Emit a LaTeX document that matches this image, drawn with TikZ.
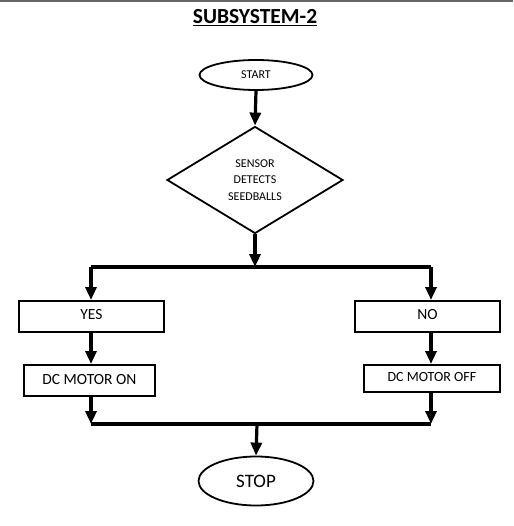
\documentclass[tikz,border=0pt]{standalone}
\usepackage{fontspec}
\setmainfont{Carlito}
\usetikzlibrary{arrows.meta,shapes.geometric}
\begin{document}
\begin{tikzpicture}[x=1pt,y=-1pt,
  box/.style={draw,line width=1.8pt,rectangle,inner sep=0pt,anchor=north west},
  oval/.style={draw,line width=1.8pt,ellipse,inner sep=0pt},
  flow/.style={line width=3.2pt,-{Triangle[length=13pt,width=11pt]}},
  bar/.style={line width=3.2pt}]
\useasboundingbox (0,0) rectangle (513,526);
\fill[gray!80!black] (0,0) rectangle (513,1.6);
\node[font=\fontsize{21.5}{24}\selectfont\bfseries] (title) at (255,18) {\underline{SUBSYSTEM-2}};
\node[oval,minimum width=113pt,minimum height=30pt,font=\fontsize{12}{14}\selectfont] (start) at (256,75) {START};
\node[draw,line width=1.8pt,diamond,inner sep=0pt,minimum width=176pt,minimum height=107pt,align=center,font=\fontsize{12}{16.5}\selectfont] (dec) at (255,180)
  {SENSOR\\DETECTS\\SEEDBALLS};
\node[box,minimum width=145pt,minimum height=31pt] (yes) at (18,300) {};
\node[font=\fontsize{15.5}{17}\selectfont] at ([yshift=1.5pt]yes.center) {YES};
\node[box,minimum width=145pt,minimum height=31pt] (no) at (354,300) {};
\node[font=\fontsize{15.5}{17}\selectfont] at ([yshift=1.5pt]no.center) {NO};
\node[box,minimum width=131pt,minimum height=31pt] (on) at (23,364) {};
\node[font=\fontsize{15.5}{17}\selectfont] at ([yshift=1pt]on.center) {DC MOTOR ON};
\node[box,minimum width=136pt,minimum height=27pt] (off) at (363,364) {};
\node[font=\fontsize{14}{16}\selectfont] at ([yshift=1pt]off.center) {DC MOTOR OFF};
\node[oval,minimum width=115pt,minimum height=49pt,font=\fontsize{19}{21}\selectfont] (stop) at (256,481) {STOP};
\coordinate (sj) at (255,267);
\coordinate (sl) at (91,267);
\coordinate (sr) at (431,267);
\coordinate (ml) at (91,424);
\coordinate (mr) at (431,424);
\coordinate (mc) at (257,424);
\draw[flow] (start.south) -- (dec.north);
\draw[flow] (dec.south) -- (sj);
\draw[bar] (sl) -- (sr);
\draw[flow] (sl) -- (sl |- yes.north);
\draw[flow] (sr) -- (sr |- no.north);
\draw[flow] (yes.south -| sl) -- (sl |- on.north);
\draw[flow] (no.south -| sr) -- (sr |- off.north);
\draw[flow] (on.south -| ml) -- (ml);
\draw[flow] (off.south -| mr) -- (mr);
\draw[bar] (ml) -- (mr);
\draw[flow] (mc) -- (stop.north);
\end{tikzpicture}
\end{document}
